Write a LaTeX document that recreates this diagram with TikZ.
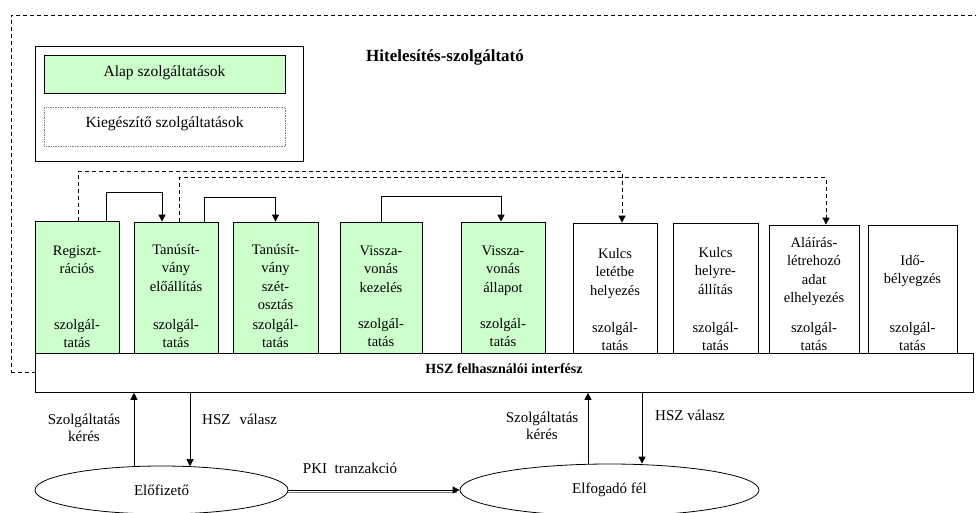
\documentclass[tikz,border=0pt]{standalone}
\usepackage{fontspec}
\setmainfont{Liberation Serif}
\usetikzlibrary{arrows.meta,shapes.geometric}
\definecolor{lgreen}{RGB}{204,255,204}
\newcommand\tstr{\rule{0pt}{10.5pt}}
\begin{document}
\begin{tikzpicture}[x=1pt,y=-1pt,
  dsh/.style={dash pattern=on 4pt off 3pt, line width=0.8pt},
  gbox/.style={draw, line width=0.8pt, fill=lgreen, inner sep=0pt},
  wbox/.style={draw, line width=0.8pt, fill=white, inner sep=0pt},
  txt/.style={font=\fontsize{14.5}{18.5}\selectfont, align=center, inner sep=0pt, anchor=north},
  legtxt/.style={font=\fontsize{15.5}{18}\selectfont, inner sep=0pt, anchor=base},
  lbl/.style={font=\fontsize{15}{17.5}\selectfont, align=center, inner sep=0pt},
  tip/.style={-{Triangle[length=7pt,width=7pt]}},
  conn/.style={line width=1pt, tip},
  dconn/.style={line width=0.9pt, dash pattern=on 4pt off 3pt, tip},
]
\useasboundingbox (0,0) rectangle (976,512);
\clip (0,0) rectangle (976,512);
% outer dashed frame
\node[draw, dsh, minimum width=967pt, minimum height=357pt, anchor=north west, inner sep=0pt] (hsz) at (11,15) {};
\node[font=\bfseries\fontsize{17}{19}\selectfont, anchor=base, inner sep=0pt] (title) at (445,61) {Hitelesítés-szolgáltató};
% legend
\node[wbox, minimum width=268pt, minimum height=115pt, anchor=north west] (leg) at (35,46) {};
\node[gbox, minimum width=241pt, minimum height=38pt, anchor=north west] (alap) at (44,55) {};
\node[legtxt] (alapt) at (164.5,76.5) {Alap szolgáltatások};
\node[draw=gray, densely dotted, line width=0.7pt, fill=white, minimum width=241pt, minimum height=39pt, anchor=north west, inner sep=0pt] (kieg) at (44,107) {};
\node[legtxt] (kiegt) at (164.5,127) {Kiegészítő szolgáltatások};
% service boxes
\node[gbox, minimum width=84pt, minimum height=132pt] (b1) at (77,287) {};
\node[gbox, minimum width=84pt, minimum height=131pt] (b2) at (176,287.5) {};
\node[gbox, minimum width=85pt, minimum height=131pt] (b3) at (275.5,287.5) {};
\node[gbox, minimum width=82pt, minimum height=131pt] (b4) at (381,287.5) {};
\node[gbox, minimum width=84pt, minimum height=131pt] (b5) at (503,287.5) {};
\node[wbox, minimum width=84pt, minimum height=130pt] (b6) at (615,288) {};
\node[wbox, minimum width=85pt, minimum height=130pt] (b7) at (715.5,288) {};
\node[wbox, minimum width=90pt, minimum height=128pt] (b8) at (814,289) {};
\node[wbox, minimum width=89pt, minimum height=128pt] (b9) at (912.5,289) {};
% box texts
\node[txt] (b1a) at (77,244.5) {\tstr Regiszt-\\rációs};
\node[txt] (b1b) at (77,318.5) {\tstr szolgál-\\tatás};
\node[txt] (b2a) at (176,243.5) {\tstr Tanúsít-\\vány\\előállítás};
\node[txt] (b2b) at (176,318.5) {\tstr szolgál-\\tatás};
\node[txt] (b3a) at (275.5,243.5) {\tstr Tanúsít-\\vány\\szét-\\osztás};
\node[txt] (b3b) at (275.5,318.5) {\tstr szolgál-\\tatás};
\node[txt] (b4a) at (381,244.5) {\tstr Vissza-\\vonás\\kezelés};
\node[txt] (b4b) at (381,317.5) {\tstr szolgál-\\tatás};
\node[txt] (b5a) at (503,244.5) {\tstr Vissza-\\vonás\\állapot};
\node[txt] (b5b) at (503,317.5) {\tstr szolgál-\\tatás};
\node[txt] (b6a) at (615,247.5) {\tstr Kulcs\\letétbe\\helyezés};
\node[txt] (b6b) at (615,321.5) {\tstr szolgál-\\tatás};
\node[txt] (b7a) at (715.5,246.5) {\tstr Kulcs\\helyre-\\állítás};
\node[txt] (b7b) at (715.5,321.5) {\tstr szolgál-\\tatás};
\node[txt] (b8a) at (814,236.5) {\tstr Aláírás-\\létrehozó\\adat\\elhelyezés};
\node[txt] (b8b) at (814,321.5) {\tstr szolgál-\\tatás};
\node[txt] (b9a) at (912.5,254.5) {\tstr Idő-\\bélyegzés};
\node[txt] (b9b) at (912.5,321.5) {\tstr szolgál-\\tatás};
% connectors between boxes
\draw[conn] ([xshift=29pt]b1.north) -- ++(0,-28) -| ([xshift=-14pt]b2.north);
\draw[conn] ([xshift=28pt]b2.north) -- ++(0,-24) -| (b3.north);
\draw[conn] (b4.north) -- ++(0,-25) -| ([xshift=-2pt]b5.north);
\draw[dconn] ([xshift=1pt]b1.north) -- ++(0,-49) -| ([xshift=7pt]b6.north);
\draw[dconn] ([xshift=3pt]b2.north) -- ++(0,-44) -| ([xshift=12pt]b8.north);
% interface
\node[wbox, minimum width=938pt, minimum height=39pt, anchor=north west] (IF) at (35,353) {};
\node[font=\bfseries\fontsize{14}{16}\selectfont, anchor=base, inner sep=0pt] (IFt) at (504,373) {HSZ felhasználói interfész};
% parties
\node[draw, ellipse, line width=0.8pt, minimum width=253pt, minimum height=48pt, inner sep=0pt, font=\fontsize{15}{17}\selectfont] (E1) at (161.5,490) {Előfizető};
\node[draw, ellipse, line width=0.8pt, minimum width=299pt, minimum height=52pt, inner sep=0pt, font=\fontsize{15}{17}\selectfont] (E2) at (609.5,490) {Elfogadó fél};
\coordinate (uL) at (134,0);
\coordinate (dL) at (190,0);
\coordinate (uR) at (588,0);
\coordinate (dR) at (642,0);
\draw[conn] ([yshift=-0.6pt]uL |- E1.north) -- (uL |- IF.south);
\draw[conn] (dL |- IF.south) -- ([yshift=-0.6pt]dL |- E1.north);
\draw[conn] (uR |- E2.north) -- (uR |- IF.south);
\draw[conn] (dR |- IF.south) -- (dR |- E2.north);
\node[lbl, anchor=north] (skL) at (84,413.5) {\tstr Szolgáltatás\\kérés};
\node[lbl, anchor=base west] (hvL) at (202,424) {HSZ\hspace{0.6em}válasz};
\node[lbl, anchor=north] (skR) at (542,411.5) {\tstr Szolgáltatás\\kérés};
\node[lbl, anchor=base west] (hvR) at (655,420) {HSZ válasz};
% PKI transaction
\draw[gray, line width=0.6pt] ([yshift=-2.2pt]E1.east) -- ([yshift=-2.2pt,xshift=-3pt]E2.west);
\draw[conn] (E1.east) -- (E2.west);
\node[lbl, anchor=base] (pki) at (350,473) {PKI\hspace{0.5em}tranzakció};
\end{tikzpicture}
\end{document}
